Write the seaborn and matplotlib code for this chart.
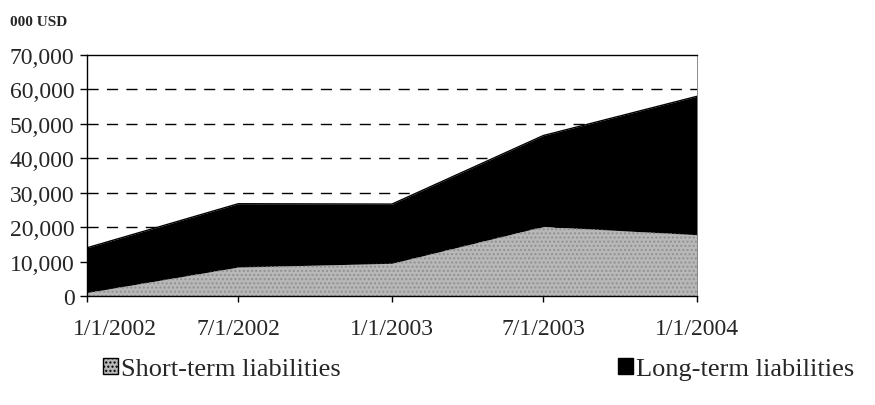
import numpy as np
import pandas as pd
import matplotlib
matplotlib.use("Agg")
import matplotlib.pyplot as plt
import matplotlib.transforms as mtransforms
from matplotlib.patches import Patch
import seaborn as sns

# values (000 USD)
dates = ["2002-01-01", "2002-07-01", "2003-01-01", "2003-07-01", "2004-01-01"]
tick_labels = ["1/1/2002", "7/1/2002", "1/1/2003", "7/1/2003", "1/1/2004"]
short_term = [1000, 8400, 9500, 20200, 17800]
long_term = [13000, 18400, 17200, 26400, 40200]
y_ticks = [0, 10000, 20000, 30000, 40000, 50000, 60000, 70000]

df = pd.DataFrame({"date": pd.to_datetime(dates),
                   "short": short_term,
                   "long": long_term})
df["total"] = df["short"] + df["long"]

sns.set_theme(style="white")
plt.rcParams['font.family'] = ['Liberation Serif', 'DejaVu Serif']

fig = plt.figure(figsize=(8.75, 4.06), dpi=100)
ax = fig.add_axes([87/875, 1 - 297/406, 610/875, 241/406])

short_color = "#b8b8b8"
ax.stackplot(df["date"], df["short"], df["long"],
             colors=[short_color, "black"], linewidth=0)
# stipple texture on the short-term band
ax.fill_between(df["date"], 0, df["short"], facecolor="none",
                edgecolor="#909090", hatch="....", linewidth=0)
sns.lineplot(data=df, x="date", y="total", color="black", lw=1, ax=ax)

# dashed grid lines drawn behind the areas
for v in y_ticks[1:-1]:
    ax.axhline(v, color="black", lw=1, ls=(0, (8, 6)), zorder=0)

ax.set_ylim(0, 70000)
ax.set_xlim(df["date"].iloc[0], df["date"].iloc[-1])
ax.set_yticks(y_ticks)
ax.set_yticklabels([f"{v:,}" for v in y_ticks])
ax.set_xticks(df["date"])
ax.set_xticklabels(tick_labels)
ax.set_xlabel("")
ax.set_ylabel("")

ax.tick_params(axis="y", direction="out", length=5, width=1, color="black",
               labelsize=17, pad=4, left=True)
ax.tick_params(axis="x", direction="out", length=4, width=1, color="black",
               labelsize=17, pad=12, bottom=True)

# first date label sits a bit right of its tick in the reference
lbl = ax.get_xticklabels()[0]
lbl.set_transform(lbl.get_transform() + mtransforms.ScaledTranslation(28/100, 0, fig.dpi_scale_trans))

for side in ["left", "bottom", "top"]:
    ax.spines[side].set_color("black")
    ax.spines[side].set_linewidth(1)
ax.spines["right"].set_color("#777777")
ax.spines["right"].set_linewidth(0.6)

fig.text(10/875, 1 - 22/406, "000 USD", fontsize=11, fontweight="bold",
         va="center", ha="left")

h_short = Patch(facecolor=short_color, edgecolor="black", hatch="....", linewidth=1)
h_long = Patch(facecolor="black", edgecolor="black")
fig.legend([h_short], ["Short-term liabilities"], loc="center left",
           bbox_to_anchor=(92/875, 1 - 370/406), frameon=False, fontsize=19,
           handlelength=0.58, handleheight=0.58, handletextpad=0.12, borderaxespad=0)
fig.legend([h_long], ["Long-term liabilities"], loc="center left",
           bbox_to_anchor=(607/875, 1 - 370/406), frameon=False, fontsize=19,
           handlelength=0.58, handleheight=0.58, handletextpad=0.12, borderaxespad=0)

fig.savefig("out.png", dpi=100)
